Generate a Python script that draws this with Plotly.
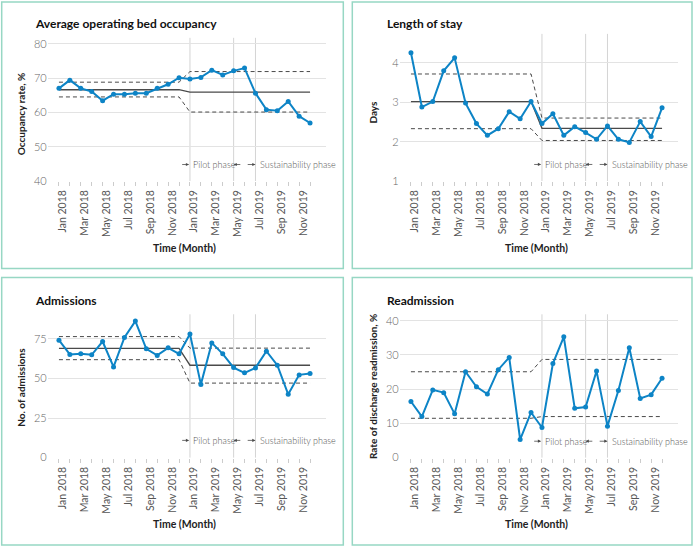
import plotly.graph_objects as go

W, H = 696, 552

months = ["Jan 2018", "Feb 2018", "Mar 2018", "Apr 2018", "May 2018", "Jun 2018",
          "Jul 2018", "Aug 2018", "Sep 2018", "Oct 2018", "Nov 2018", "Dec 2018",
          "Jan 2019", "Feb 2019", "Mar 2019", "Apr 2019", "May 2019", "Jun 2019",
          "Jul 2019", "Aug 2019", "Sep 2019", "Oct 2019", "Nov 2019", "Dec 2019"]

occupancy = [67.0, 69.4, 67.0, 66.1, 63.4, 65.3, 65.3, 65.6, 65.6, 67.0, 68.2, 70.1,
             69.7, 70.2, 72.3, 70.9, 72.1, 72.9, 65.6, 60.8, 60.5, 63.2, 58.9, 56.9]
occ_mean = [66.6, 65.9]
occ_ucl = [68.8, 71.9]
occ_lcl = [64.5, 60.1]

los = [4.26, 2.88, 3.02, 3.80, 4.13, 2.98, 2.46, 2.16, 2.33, 2.76, 2.58, 3.02,
       2.46, 2.71, 2.16, 2.38, 2.23, 2.06, 2.40, 2.06, 1.98, 2.51, 2.13, 2.86]
los_mean = [3.02, 2.34]
los_ucl = [3.72, 2.60]
los_lcl = [2.33, 2.03]

admissions = [74.2, 65.2, 65.6, 65.0, 73.4, 57.3, 76.0, 86.3, 68.8, 64.6, 69.4, 65.6,
              78.1, 46.3, 72.5, 65.6, 56.9, 53.6, 56.7, 67.3, 58.4, 40.0, 52.3, 53.1]
adm_mean = [69.0, 58.4]
adm_ucl = [76.5, 69.2]
adm_lcl = [61.9, 47.1]

readmission = [16.4, 12.0, 19.8, 19.0, 12.8, 25.1, 20.7, 18.6, 25.7, 29.3, 5.3, 13.2,
               8.8, 27.5, 35.3, 14.4, 14.8, 25.3, 9.2, 19.6, 32.1, 17.3, 18.4, 23.2]
rea_mean = None
rea_ucl = [25.1, 28.7]
rea_lcl = [11.5, 12.0]

phase_lines = ["Jan 2019", "May 2019", "Jul 2019"]

FONT = "Lato"
BLUE = "#0d84c6"
DARK = "#4a4a4a"
BORDER = "#97d7c4"
XR = [-1.03, 24.46]

panels = [
    dict(title="Average operating bed occupancy", ytitle="Occupancy rate, %", data=occupancy,
         mean=occ_mean, ucl=occ_ucl, lcl=occ_lcl, yr=[40, 81.73], ticks=[40, 50, 60, 70, 80],
         box=(1.7, 1, 343.3, 271), dom_x=(47.7, 326), dom_y=(37.3, 182.3), ann_y=44.8,
         title_xy=(33, 23), ytitle_xy=(20.7, 114), xtitle_xy=(184, 250)),
    dict(title="Length of stay", ytitle="Days", data=los,
         mean=los_mean, ucl=los_ucl, lcl=los_lcl, yr=[1, 4.74], ticks=[1, 2, 3, 4],
         box=(352.3, 1, 692, 271), dom_x=(399.7, 678), dom_y=(33.3, 182.3), ann_y=1.42,
         title_xy=(384.7, 23), ytitle_xy=(373, 113), xtitle_xy=(536, 250)),
    dict(title="Admissions", ytitle="No. of admissions", data=admissions,
         mean=adm_mean, ucl=adm_ucl, lcl=adm_lcl, yr=[0, 90.6], ticks=[0, 25, 50, 75],
         box=(1.7, 280, 343.3, 551), dom_x=(47.7, 326), dom_y=(317.3, 462.5), ann_y=10.9,
         title_xy=(33, 303), ytitle_xy=(20.7, 391), xtitle_xy=(184, 530)),
    dict(title="Readmission", ytitle="Rate of discharge readmission, %", data=readmission,
         mean=rea_mean, ucl=rea_ucl, lcl=rea_lcl, yr=[0, 41.9], ticks=[0, 10, 20, 30, 40],
         box=(352.3, 280, 692, 551), dom_x=(399.7, 678), dom_y=(317.3, 462.5), ann_y=4.8,
         title_xy=(384.7, 303), ytitle_xy=(373, 391), xtitle_xy=(536, 530)),
]

fig = go.Figure()
xs = list(range(len(months)))
ticktext = [m if i % 2 == 0 else "" for i, m in enumerate(months)]
shapes = []
annotations = []


def px_x(v):
    return v / W


def px_y(v):
    return 1 - v / H


for k, p in enumerate(panels):
    n = k + 1
    xa = "x" if n == 1 else f"x{n}"
    ya = "y" if n == 1 else f"y{n}"
    half = len(months) // 2
    for vals, dash, width in [(p["ucl"], "4px,3px", 1), (p["lcl"], "4px,3px", 1), (p["mean"], "solid", 1.3)]:
        if vals is None:
            continue
        fig.add_trace(go.Scatter(x=xs, y=[vals[0]] * half + [vals[1]] * half, mode="lines",
                                 line=dict(color=DARK, width=width, dash=dash),
                                 xaxis=xa, yaxis=ya, showlegend=False, hoverinfo="skip"))
    fig.add_trace(go.Scatter(x=xs, y=p["data"], mode="lines+markers",
                             line=dict(color=BLUE, width=2), marker=dict(color=BLUE, size=5),
                             xaxis=xa, yaxis=ya, showlegend=False))
    axx = dict(domain=[px_x(p["dom_x"][0]), px_x(p["dom_x"][1])], range=XR,
               tickmode="array", tickvals=xs, ticktext=ticktext, tickangle=-90,
               ticks="outside", ticklen=4, tickcolor="#cccccc", tickwidth=1,
               showgrid=False, zeroline=False, showline=False, anchor=ya,
               tickfont=dict(family=FONT, size=10.5, color="#555555"), ticklabelshift=4)
    axy = dict(domain=[px_y(p["dom_y"][1]), px_y(p["dom_y"][0])], range=p["yr"],
               tickmode="array", tickvals=p["ticks"], showgrid=True, gridcolor="#e3e3e3",
               gridwidth=1, zeroline=False, showline=False, ticks="", anchor=xa,
               tickfont=dict(family=FONT, size=11, color="#666666", weight=300))
    fig.layout["xaxis" if n == 1 else f"xaxis{n}"] = axx
    fig.layout["yaxis" if n == 1 else f"yaxis{n}"] = axy

    for m in phase_lines:
        xi = months.index(m)
        shapes.append(dict(type="line", xref=xa, yref=f"{ya} domain", x0=xi, x1=xi, y0=0, y1=1,
                           line=dict(color="#d4d4d4", width=1), layer="below"))
    b = p["box"]
    shapes.append(dict(type="rect", xref="paper", yref="paper", x0=px_x(b[0]), x1=px_x(b[2]),
                       y0=px_y(b[3]), y1=px_y(b[1]), line=dict(color=BORDER, width=1.5)))
    annotations.append(dict(xref="paper", yref="paper", x=px_x(p["title_xy"][0]), y=px_y(p["title_xy"][1]),
                            text=p["title"], showarrow=False, xanchor="left", yanchor="middle",
                            font=dict(family=FONT, size=12, color="#111111", weight="bold")))
    annotations.append(dict(xref="paper", yref="paper", x=px_x(p["ytitle_xy"][0]), y=px_y(p["ytitle_xy"][1]),
                            text=p["ytitle"], showarrow=False, textangle=-90, xanchor="center", yanchor="middle",
                            font=dict(family=FONT, size=10, color="#222222", weight="bold")))
    annotations.append(dict(xref="paper", yref="paper", x=px_x(p["xtitle_xy"][0]), y=px_y(p["xtitle_xy"][1]),
                            text="Time (Month)", showarrow=False, xanchor="center", yanchor="middle",
                            font=dict(family=FONT, size=10.5, color="#222222", weight="bold")))
    j0 = months.index(phase_lines[0])
    j1 = months.index(phase_lines[1])
    j2 = months.index(phase_lines[2])
    ay = p["ann_y"]
    arrow = dict(xref=xa, yref=ya, axref=xa, ayref=ya, text="", showarrow=True, arrowhead=2,
                 arrowsize=0.8, arrowwidth=0.8, arrowcolor=DARK, standoff=0, startstandoff=0)
    annotations.append(dict(arrow, x=j0 - 0.08, y=ay, ax=j0 - 0.85, ay=ay))
    annotations.append(dict(arrow, x=j1, y=ay, ax=j1 + 0.75, ay=ay))
    annotations.append(dict(arrow, x=j2, y=ay, ax=j2 - 0.85, ay=ay))

    # text positions in paper space so they are not clipped by the plot area
    dx0, dx1 = p["dom_x"]
    dy0, dy1 = p["dom_y"]

    def ix_to_px(i):
        return dx0 + (i - XR[0]) / (XR[1] - XR[0]) * (dx1 - dx0)

    ypx = dy1 - (ay - p["yr"][0]) / (p["yr"][1] - p["yr"][0]) * (dy1 - dy0)
    tf = dict(family=FONT, size=9, color="#555555", weight=300)
    annotations.append(dict(xref="paper", yref="paper", x=px_x(ix_to_px(j0 + 0.1)), y=px_y(ypx),
                            text="Pilot phase", showarrow=False, xanchor="left", yanchor="middle", font=tf))
    annotations.append(dict(xref="paper", yref="paper", x=px_x(ix_to_px(j2 + 0.2)), y=px_y(ypx),
                            text="Sustainability phase", showarrow=False, xanchor="left", yanchor="middle", font=tf))

fig.update_layout(width=W, height=H, margin=dict(l=0, r=0, t=0, b=0),
                  paper_bgcolor="white", plot_bgcolor="white",
                  shapes=shapes, annotations=annotations, font=dict(family=FONT))

fig.write_html("out.html", config={"displayModeBar": False},
               post_script="document.body.style.margin='0';document.body.style.overflow='hidden';")
